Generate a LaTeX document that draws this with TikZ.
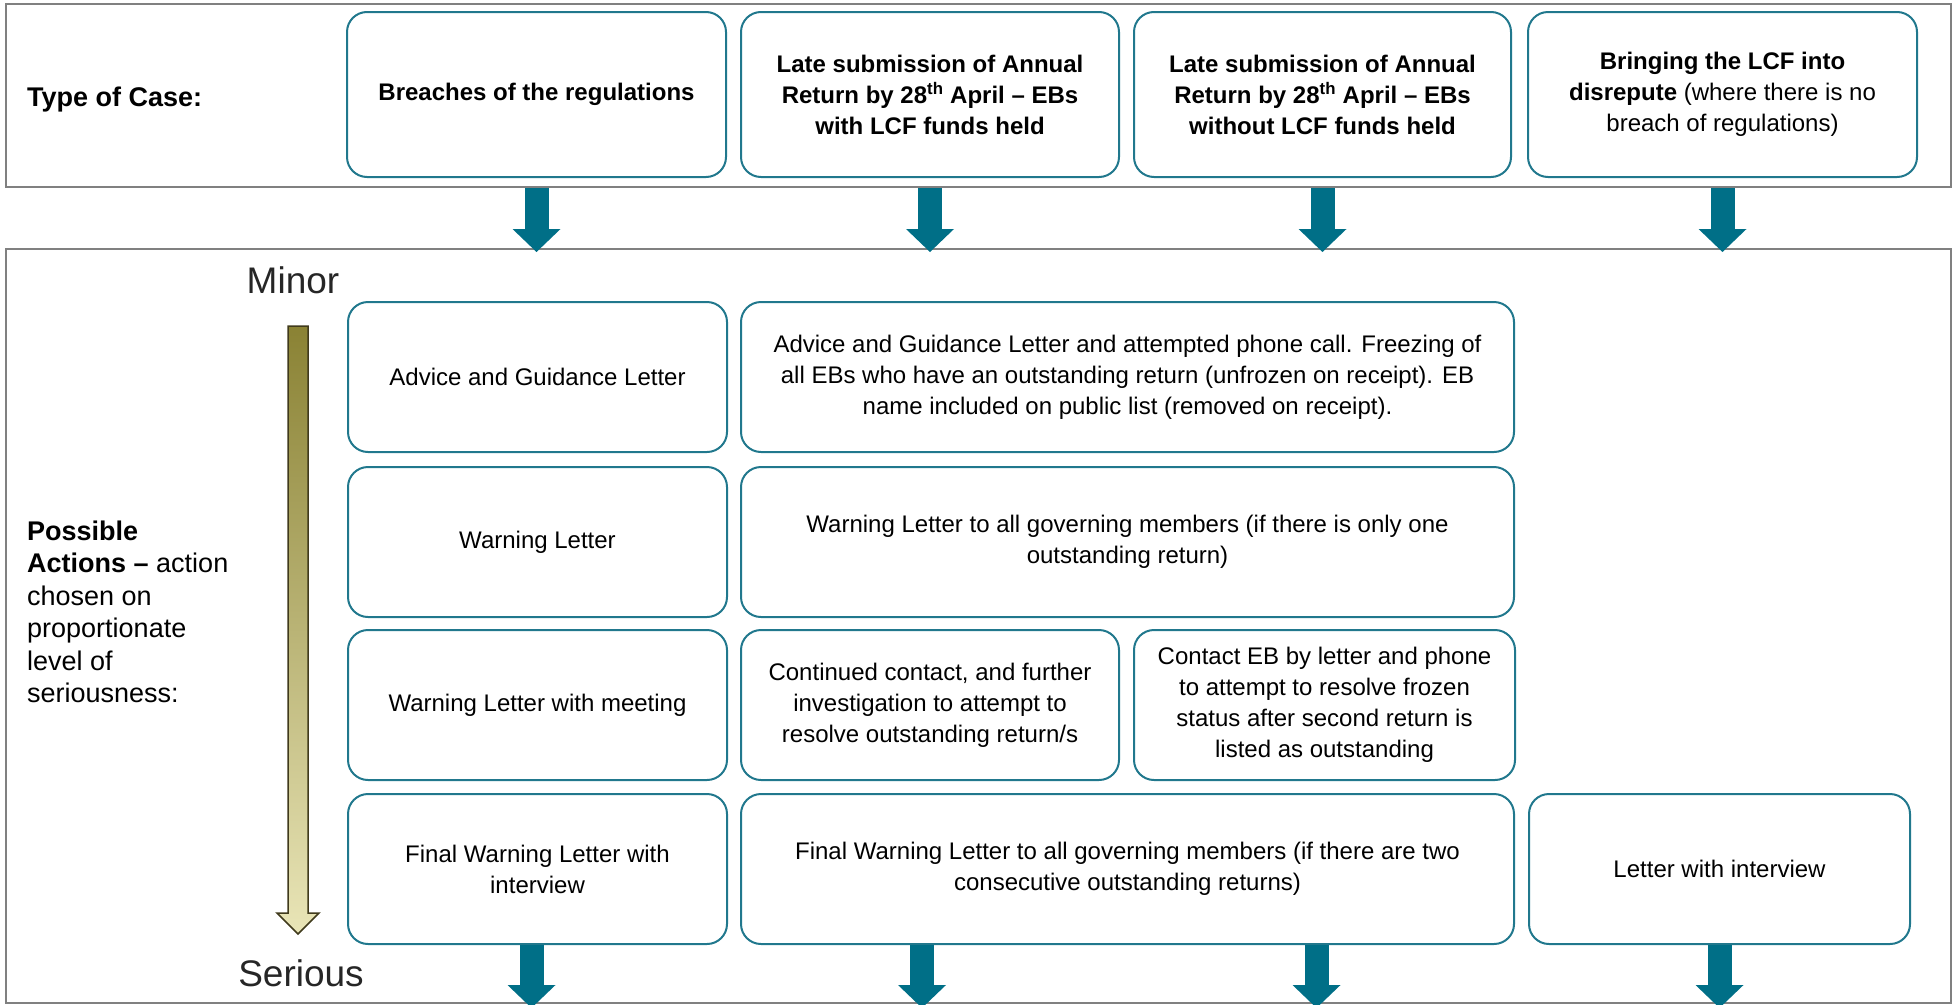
\documentclass[tikz,border=0pt]{standalone}
\usepackage{fontspec}
\setmainfont{Liberation Sans}
\usetikzlibrary{arrows.meta}

\definecolor{boxline}{RGB}{33,120,141}
\definecolor{arrowteal}{RGB}{0,111,135}
\definecolor{framegray}{RGB}{128,128,128}
\definecolor{scaletop}{RGB}{138,130,52}
\definecolor{scalebottom}{RGB}{233,229,183}
\definecolor{scaleedge}{RGB}{64,58,28}

\begin{document}
\begin{tikzpicture}[x=1pt,y=-1pt,
  frame/.style={draw=framegray,line width=2pt,inner sep=0},
  casebox/.style={draw=boxline,line width=2pt,rounded corners=20pt,align=center,inner sep=0,minimum height=165pt,font=\fontsize{24}{31}\selectfont\bfseries},
  actbox/.style={draw=boxline,line width=2pt,rounded corners=20pt,align=center,inner sep=0,minimum height=150pt,font=\fontsize{24}{31}\selectfont},
  sidetext/.style={anchor=west,align=left,inner sep=0,font=\fontsize{27}{32.5}\selectfont},
  scaletext/.style={inner sep=0,text=black!85,font=\fontsize{37}{40}\selectfont},
  fatarrow/.style={draw=arrowteal,line width=24pt,-{Triangle[width=48pt,length=23pt,line width=0pt]}}]
\useasboundingbox (0,0) rectangle (1958,1004);
\node[frame,minimum width=1945pt,minimum height=183pt] (caseframe) at (978.5,95.5) {};
\node[frame,minimum width=1945pt,minimum height=754pt] (actionframe) at (978.5,626) {};
\coordinate (bottomedge) at (0,1008);

\node[sidetext,font=\fontsize{27}{32.5}\selectfont\bfseries] (casetitle) at (27,100) {Type of Case:};
\node[casebox,minimum width=379pt] (breach) at (536.5,94.5) {Breaches of the regulations};
\node[casebox,minimum width=378pt] (latewith) at (930,94.5) {Late submission of Annual\\Return by 28\textsuperscript{th} April -- EBs\\with LCF funds held};
\node[casebox,minimum width=377pt] (latewithout) at (1322.5,94.5) {Late submission of Annual\\Return by 28\textsuperscript{th} April -- EBs\\without LCF funds held};
\node[casebox,minimum width=389pt] (disrepute) at (1722.5,94.5) {Bringing the LCF into\\disrepute \textmd{(where there is no}\\\textmd{breach of regulations)}};

\draw[fatarrow] (caseframe.south -| breach) -- ([yshift=-4pt]actionframe.north -| breach);
\draw[fatarrow] (caseframe.south -| latewith) -- ([yshift=-4pt]actionframe.north -| latewith);
\draw[fatarrow] (caseframe.south -| latewithout) -- ([yshift=-4pt]actionframe.north -| latewithout);
\draw[fatarrow] (caseframe.south -| disrepute) -- ([yshift=-4pt]actionframe.north -| disrepute);

\node[scaletext] (minor) at (293,280) {Minor};
\node[scaletext] (serious) at (301,973) {Serious};
\draw[scaleedge,line width=1.5pt,top color=scaletop,bottom color=scalebottom] (288,326) -- (308,326) -- (308,913) -- (319,913) -- (298,934) -- (277,913) -- (288,913) -- cycle;
\node[sidetext] (actions) at (27,612) {\textbf{Possible}\\\textbf{Actions --} action\\chosen on\\proportionate\\level of\\seriousness:};

\node[actbox,minimum width=379pt] (advice) at (537.5,377) {Advice and Guidance Letter};
\node[actbox,minimum width=773pt] (adviceeb) at (1127.5,377) {Advice and Guidance Letter and attempted phone call. Freezing of\\all EBs who have an outstanding return (unfrozen on receipt). EB\\name included on public list (removed on receipt).};
\node[actbox,minimum width=379pt] (warning) at (537.5,542) {Warning Letter};
\node[actbox,minimum width=773pt] (warningeb) at (1127.5,542) {Warning Letter to all governing members (if there is only one\\outstanding return)};
\node[actbox,minimum width=379pt] (meeting) at (537.5,705) {Warning Letter with meeting};
\node[actbox,minimum width=378pt] (contactwith) at (930,705) {Continued contact, and further\\investigation to attempt to\\resolve outstanding return/s};
\node[actbox,minimum width=381pt] (contactwithout) at (1324.5,705) {Contact EB by letter and phone\\to attempt to resolve frozen\\status after second return is\\listed as outstanding};
\node[actbox,minimum width=379pt] (finalwarning) at (537.5,869) {Final Warning Letter with\\interview};
\node[actbox,minimum width=773pt] (finaleb) at (1127.5,869) {Final Warning Letter to all governing members (if there are two\\consecutive outstanding returns)};
\node[actbox,minimum width=381pt] (interview) at (1719.5,869) {Letter with interview};

\draw[fatarrow] ([xshift=-6pt]finalwarning.south) -- ([xshift=-6pt]finalwarning.south |- bottomedge);
\draw[fatarrow] ([xshift=-8pt]finaleb.south -| contactwith) -- ([xshift=-8pt]contactwith |- bottomedge);
\draw[fatarrow] ([xshift=-8pt]finaleb.south -| contactwithout) -- ([xshift=-8pt]contactwithout |- bottomedge);
\draw[fatarrow] (interview.south) -- (interview.south |- bottomedge);
\end{tikzpicture}
\end{document}
